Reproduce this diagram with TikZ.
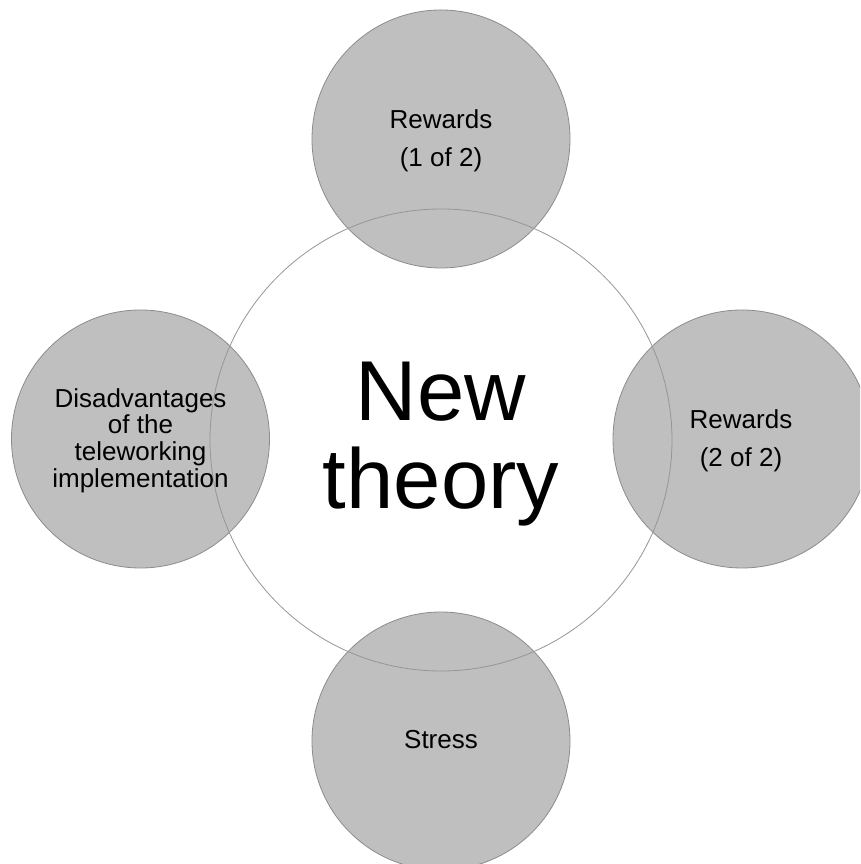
\documentclass[tikz,border=0pt]{standalone}
\usepackage{fontspec}
\setmainfont{Liberation Sans}
\definecolor{satfill}{RGB}{191,191,191}
\definecolor{satline}{RGB}{140,140,140}
\definecolor{mainline}{RGB}{150,150,150}
\begin{document}
\begin{tikzpicture}[x=1pt,y=1pt,
  sat/.style={circle, fill=satfill, draw=satline, line width=0.8pt, minimum size=258pt, inner sep=0pt},
  hub/.style={circle, draw=mainline, line width=0.8pt, minimum size=462pt, inner sep=0pt},
  lbl/.style={align=center, inner sep=0pt, text=black, font=\fontsize{26}{38}\selectfont},
  lbltight/.style={align=center, inner sep=0pt, text=black, font=\fontsize{26}{26.7}\selectfont},
  big/.style={align=center, inner sep=0pt, text=black, font=\fontsize{85}{88}\selectfont}
]
\useasboundingbox (0,0) rectangle (860,864);
\fill[white] (0,0) rectangle (860,864);
\clip (0,0) rectangle (860,864);
% satellite circles
\node[sat] (top) at (441,725) {};
\node[sat] (right) at (742,425) {};
\node[sat] (left) at (140.5,425) {};
\node[sat] (bottom) at (441,123) {};
% central circle outline on top
\node[hub] (hub) at (441,424) {};
% texts
\node[lbl] (toptext) at (441,723) {Rewards\\(1 of 2)};
\node[lbl] (righttext) at (741,423.6) {Rewards\\(2 of 2)};
\node[lbltight] (lefttext) at (140.5,423.6) {Disadvantages\\of the\\teleworking\\implementation};
\node[lbl] (bottomtext) at (441,124.8) {Stress};
\node[big] (hubtext) at (441,419.6) {New\\theory};
\end{tikzpicture}
\end{document}
